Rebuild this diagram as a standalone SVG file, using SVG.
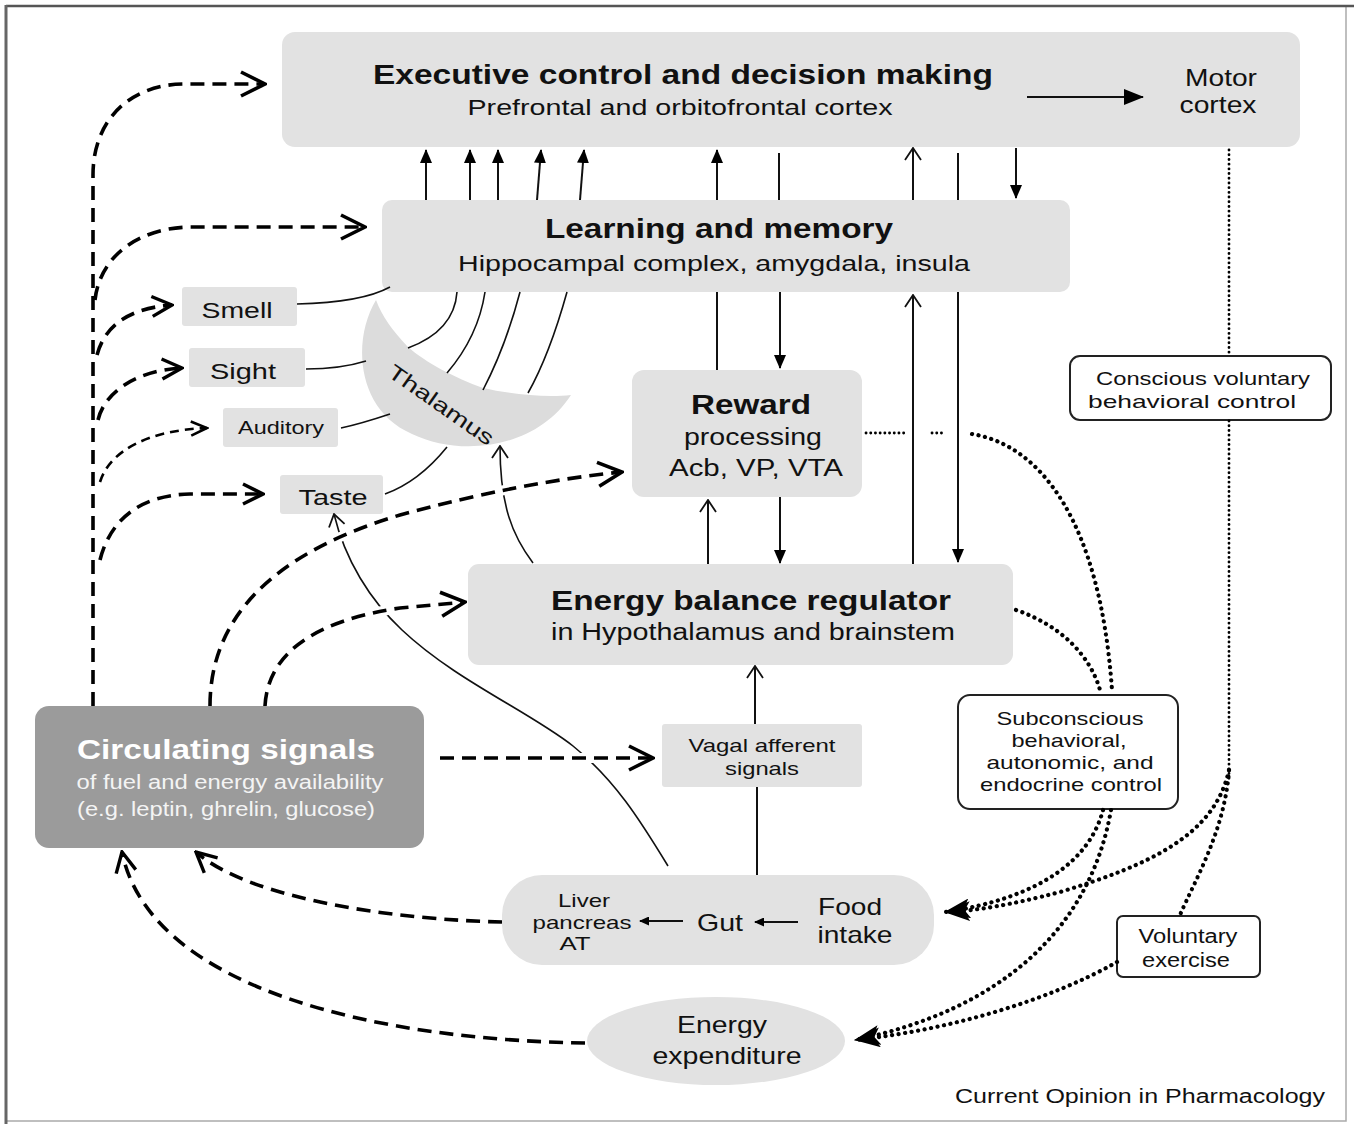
<svg xmlns="http://www.w3.org/2000/svg" width="1354" height="1124" viewBox="0 0 1354 1124">
  <style>
    text { font-family: "Liberation Sans", Arial, sans-serif; fill: #111; text-anchor: middle; }
    .b { font-weight: bold; }
    .box { fill: #e2e2e2; }
    .wbox { fill: #fff; stroke: #222; stroke-width: 2; }
    .thin { fill: none; stroke: #111; stroke-width: 1.6; }
    .ar { fill: none; stroke: #111; stroke-width: 2; }
    .dash { fill: none; stroke: #000; stroke-width: 3.6; stroke-dasharray: 14 8; }
    .dashS { fill: none; stroke: #000; stroke-width: 2.6; stroke-dasharray: 9 6; }
    .halo { fill: none; stroke: #fff; stroke-width: 10; }
    .dot { fill: none; stroke: #000; stroke-width: 4.2; stroke-linecap: round; stroke-dasharray: 0.1 6.5; }
    .dotS { fill: none; stroke: #000; stroke-width: 2.8; stroke-linecap: round; stroke-dasharray: 0.1 4.6; }
  </style>
  <defs>
    <marker id="solid" viewBox="0 0 14 12" refX="13" refY="6" markerWidth="14" markerHeight="12" orient="auto" markerUnits="userSpaceOnUse">
      <path d="M0,0 L14,6 L0,12 Z" fill="#000"/>
    </marker>
    <marker id="solidL" viewBox="0 0 20 16" refX="19" refY="8" markerWidth="20" markerHeight="16" orient="auto" markerUnits="userSpaceOnUse">
      <path d="M0,0 L20,8 L0,16 Z" fill="#000"/>
    </marker>
    <marker id="solidS" viewBox="0 0 10 9" refX="9" refY="4.5" markerWidth="10" markerHeight="9" orient="auto" markerUnits="userSpaceOnUse">
      <path d="M0,0 L10,4.5 L0,9 Z" fill="#000"/>
    </marker>
    <marker id="open" viewBox="0 0 14 18" refX="13" refY="9" markerWidth="14" markerHeight="18" orient="auto" markerUnits="userSpaceOnUse">
      <path d="M1,1 L13,9 L1,17" fill="none" stroke="#111" stroke-width="1.8"/>
    </marker>
    <marker id="chevL" viewBox="0 0 28 28" refX="26" refY="14" markerWidth="28" markerHeight="28" orient="auto" markerUnits="userSpaceOnUse">
      <path d="M2,2 L26,14 L2,26" fill="none" stroke="#000" stroke-width="3.6"/>
    </marker>
    <marker id="chevM" viewBox="0 0 24 24" refX="22" refY="12" markerWidth="24" markerHeight="24" orient="auto" markerUnits="userSpaceOnUse">
      <path d="M2,2 L22,12 L2,22" fill="none" stroke="#000" stroke-width="3.4"/>
    </marker>
    <marker id="chevS" viewBox="0 0 20 20" refX="18" refY="10" markerWidth="20" markerHeight="20" orient="auto" markerUnits="userSpaceOnUse">
      <path d="M2,3 L18,10 L2,17" fill="none" stroke="#000" stroke-width="2.6"/>
    </marker>
    <marker id="big" viewBox="0 0 26 20" refX="25" refY="10" markerWidth="26" markerHeight="20" orient="auto" markerUnits="userSpaceOnUse">
      <path d="M0,0 L26,10 L0,20 L6,10 Z" fill="#000"/>
    </marker>
  </defs>

  <!-- frame -->
  <rect x="0" y="0" width="1354" height="1124" fill="#fff"/>
  <rect x="6" y="6" width="1340" height="1115" fill="none" stroke="#aaa" stroke-width="1.5"/>
  <line x1="6" y1="6" x2="1354" y2="6" stroke="#555" stroke-width="2.5"/>
  <line x1="6" y1="5" x2="6" y2="1124" stroke="#666" stroke-width="3"/>

  <g id="executive">
    <rect class="box" x="282" y="32" width="1018" height="115" rx="13"/>
    <text class="b" x="683" y="84" font-size="28" textLength="620" lengthAdjust="spacingAndGlyphs">Executive control and decision making</text>
    <text x="680" y="115" font-size="22" textLength="425" lengthAdjust="spacingAndGlyphs">Prefrontal and orbitofrontal cortex</text>
    <text x="1221" y="86" font-size="23" textLength="72" lengthAdjust="spacingAndGlyphs">Motor</text>
    <text x="1218" y="113" font-size="23" textLength="77" lengthAdjust="spacingAndGlyphs">cortex</text>
  </g>

  <g id="learning">
    <rect class="box" x="382" y="200" width="688" height="92" rx="10"/>
    <text class="b" x="719" y="238" font-size="28" textLength="348" lengthAdjust="spacingAndGlyphs">Learning and memory</text>
    <text x="714" y="271" font-size="22" textLength="512" lengthAdjust="spacingAndGlyphs">Hippocampal complex, amygdala, insula</text>
  </g>

  <g id="thalamus">
    <path fill="#dcdcdc" d="M376,300 C352,340 356,410 412,434 C462,458 537,448 571,395 C545,398 510,394 483,388 C455,378 425,362 408,347 C392,330 382,316 376,300 Z"/>
    <text x="441" y="412" font-size="21" textLength="124" lengthAdjust="spacingAndGlyphs" transform="rotate(35 441 405)">Thalamus</text>
  </g>

  <g id="smell">
    <rect class="box" x="182" y="287" width="115" height="39" rx="3"/>
    <text x="237" y="318" font-size="22" textLength="71" lengthAdjust="spacingAndGlyphs">Smell</text>
  </g>
  <g id="sight">
    <rect class="box" x="189" y="348" width="116" height="39" rx="3"/>
    <text x="243" y="379" font-size="22" textLength="66" lengthAdjust="spacingAndGlyphs">Sight</text>
  </g>
  <g id="auditory">
    <rect class="box" x="223" y="408" width="115" height="39" rx="3"/>
    <text x="281" y="434" font-size="18.5" textLength="86" lengthAdjust="spacingAndGlyphs">Auditory</text>
  </g>
  <g id="taste">
    <rect class="box" x="280" y="475" width="103" height="39" rx="3"/>
    <text x="333" y="505" font-size="22" textLength="69" lengthAdjust="spacingAndGlyphs">Taste</text>
  </g>

  <g id="reward">
    <rect class="box" x="632" y="370" width="230" height="127" rx="12"/>
    <text class="b" x="751" y="414" font-size="27" textLength="120" lengthAdjust="spacingAndGlyphs">Reward</text>
    <text x="753" y="445" font-size="23" textLength="138" lengthAdjust="spacingAndGlyphs">processing</text>
    <text x="756" y="476" font-size="23" textLength="174" lengthAdjust="spacingAndGlyphs">Acb, VP, VTA</text>
  </g>

  <g id="energy-balance">
    <rect class="box" x="468" y="564" width="545" height="101" rx="11"/>
    <text class="b" x="751" y="610" font-size="27" textLength="400" lengthAdjust="spacingAndGlyphs">Energy balance regulator</text>
    <text x="753" y="640" font-size="23" textLength="404" lengthAdjust="spacingAndGlyphs">in Hypothalamus and brainstem</text>
  </g>

  <g id="circulating">
    <rect x="35" y="706" width="389" height="142" rx="14" fill="#9b9b9b"/>
    <text class="b" x="226" y="759" font-size="28" textLength="298" lengthAdjust="spacingAndGlyphs" style="fill:#fff">Circulating signals</text>
    <text x="230" y="789" font-size="20" textLength="307" lengthAdjust="spacingAndGlyphs" style="fill:#f4f4f4">of fuel and energy availability</text>
    <text x="226" y="816" font-size="20" textLength="298" lengthAdjust="spacingAndGlyphs" style="fill:#f4f4f4">(e.g. leptin, ghrelin, glucose)</text>
  </g>

  <g id="vagal">
    <rect class="box" x="662" y="724" width="200" height="63" rx="3"/>
    <text x="762" y="752" font-size="18.5" textLength="147" lengthAdjust="spacingAndGlyphs">Vagal afferent</text>
    <text x="762" y="775" font-size="18.5" textLength="74" lengthAdjust="spacingAndGlyphs">signals</text>
  </g>

  <g id="digestion">
    <rect class="box" x="502" y="875" width="432" height="90" rx="40"/>
    <text x="584" y="907" font-size="18.5" textLength="52" lengthAdjust="spacingAndGlyphs">Liver</text>
    <text x="582" y="929" font-size="18.5" textLength="99" lengthAdjust="spacingAndGlyphs">pancreas</text>
    <text x="575" y="950" font-size="18.5" textLength="31" lengthAdjust="spacingAndGlyphs">AT</text>
    <text x="720" y="931" font-size="24" textLength="46" lengthAdjust="spacingAndGlyphs">Gut</text>
    <text x="850" y="915" font-size="24" textLength="64" lengthAdjust="spacingAndGlyphs">Food</text>
    <text x="855" y="943" font-size="24" textLength="75" lengthAdjust="spacingAndGlyphs">intake</text>
  </g>

  <g id="expenditure">
    <ellipse cx="716" cy="1041" rx="129" ry="44" fill="#e2e2e2"/>
    <text x="722" y="1033" font-size="24" textLength="90" lengthAdjust="spacingAndGlyphs">Energy</text>
    <text x="727" y="1064" font-size="24" textLength="149" lengthAdjust="spacingAndGlyphs">expenditure</text>
  </g>

  <g id="conscious">
    <rect class="wbox" x="1070" y="356" width="261" height="64" rx="10"/>
    <text x="1203" y="385" font-size="19" textLength="214" lengthAdjust="spacingAndGlyphs">Conscious voluntary</text>
    <text x="1192" y="408" font-size="19" textLength="208" lengthAdjust="spacingAndGlyphs">behavioral control</text>
  </g>

  <g id="subconscious">
    <rect class="wbox" x="958" y="695" width="220" height="114" rx="12"/>
    <text x="1070" y="725" font-size="18.5" textLength="147" lengthAdjust="spacingAndGlyphs">Subconscious</text>
    <text x="1069" y="747" font-size="18.5" textLength="115" lengthAdjust="spacingAndGlyphs">behavioral,</text>
    <text x="1070" y="769" font-size="18.5" textLength="167" lengthAdjust="spacingAndGlyphs">autonomic, and</text>
    <text x="1071" y="791" font-size="18.5" textLength="182" lengthAdjust="spacingAndGlyphs">endocrine control</text>
  </g>

  <g id="voluntary">
    <rect class="wbox" x="1117" y="916" width="143" height="61" rx="6"/>
    <text x="1188" y="943" font-size="19.5" textLength="99" lengthAdjust="spacingAndGlyphs">Voluntary</text>
    <text x="1186" y="967" font-size="19.5" textLength="88" lengthAdjust="spacingAndGlyphs">exercise</text>
  </g>

  <text x="955" y="1103" font-size="19.5" textLength="370" lengthAdjust="spacingAndGlyphs" style="text-anchor:start">Current Opinion in Pharmacology</text>

  <g id="connectors">
    <!-- sensory inputs to learning / thalamus -->
    <path class="thin" d="M297,304 C340,303 370,298 390,287"/>
    <path class="thin" d="M306,369 C330,369 350,366 366,361"/>
    <path class="thin" d="M341,428 C360,424 375,419 390,414"/>
    <path class="thin" d="M385,494 C410,485 430,468 447,447"/>
    <!-- thalamus relays up to learning -->
    <path class="thin" d="M457,292 C455,320 435,338 408,348"/>
    <path class="thin" d="M485,292 C480,325 465,352 447,373"/>
    <path class="thin" d="M520,292 C510,330 496,365 483,390"/>
    <path class="thin" d="M567,292 C555,335 541,370 528,393"/>
    <!-- energy balance to thalamus, gut to taste -->
    <path class="thin" d="M533,563 C512,535 500,505 500,446" marker-end="url(#open)"/>
    <path class="thin" d="M668,866 C640,820 615,780 573,746 C530,712 455,680 402,630 C370,600 345,560 334,514" marker-end="url(#open)"/>

    <!-- learning to executive -->
    <path class="ar" d="M426,200 L426,150" marker-end="url(#solid)"/>
    <path class="ar" d="M470,200 L470,150" marker-end="url(#solid)"/>
    <path class="ar" d="M498,200 L498,150" marker-end="url(#solid)"/>
    <path class="ar" d="M537,200 L541,150" marker-end="url(#solid)"/>
    <path class="ar" d="M580,200 L584,150" marker-end="url(#solid)"/>
    <path class="ar" d="M717,200 L717,150" marker-end="url(#solid)"/>
    <path class="ar" d="M717,370 L717,292" stroke-width="1.6"/>
    <path class="ar" d="M779,153 L779,200" stroke-width="1.6"/>
    <path class="ar" d="M780,292 L780,368" marker-end="url(#solid)"/>
    <path class="ar" d="M913,564 L913,295" stroke-width="1.6" marker-end="url(#open)"/>
    <path class="ar" d="M913,200 L913,148" stroke-width="1.6" marker-end="url(#open)"/>
    <path class="ar" d="M958,153 L958,200" stroke-width="2.5"/>
    <path class="ar" d="M958,292 L958,562" stroke-width="2.5" marker-end="url(#solid)"/>
    <path class="ar" d="M1016,148 L1016,198" marker-end="url(#solid)"/>
    <path class="ar" d="M1027,97 L1143,97" stroke-width="2.4" marker-end="url(#solidL)"/>
    <!-- reward / energy balance -->
    <path class="ar" d="M708,564 L708,500" stroke-width="1.6" marker-end="url(#open)"/>
    <path class="ar" d="M780,497 L780,563" marker-end="url(#solid)"/>
    <!-- vagal -->
    <path class="ar" d="M757,875 L757,787" stroke-width="1.8"/>
    <path class="ar" d="M755,724 L755,666" stroke-width="1.8" marker-end="url(#open)"/>
    <!-- food chain -->
    <path class="ar" d="M798,922 L755,922" stroke-width="1.5" marker-end="url(#solidS)"/>
    <path class="ar" d="M683,921 L640,921" stroke-width="1.5" marker-end="url(#solidS)"/>

    <!-- white halos where dashed lines cross thin lines -->
    <path class="halo" d="M210,706 C210,600 300,545 400,515 C480,493 560,478 610,473"/>
    <path class="halo" d="M265,706 C268,650 320,620 400,608 L455,603"/>
    <path class="halo" d="M440,758 L640,758"/>

    <!-- circulating signals (dashed) -->
    <path class="dash" d="M93,706 L93,175 C93,120 130,84 185,84 L265,84" marker-end="url(#chevL)"/>
    <path class="dash" d="M95,300 C100,255 140,228 190,227 L365,227" marker-end="url(#chevL)"/>
    <path class="dash" d="M97,355 C105,325 130,308 172,305" marker-end="url(#chevM)"/>
    <path class="dash" d="M98,420 C105,390 140,370 182,368" marker-end="url(#chevM)"/>
    <path class="dashS" d="M100,482 C110,450 150,430 207,428" marker-end="url(#chevS)"/>
    <path class="dash" d="M100,560 C110,520 140,495 190,494 L263,494" marker-end="url(#chevM)"/>
    <path class="dash" d="M210,706 C210,600 300,545 400,515 C480,493 560,478 622,472" marker-end="url(#chevL)"/>
    <path class="dash" d="M265,706 C268,650 320,620 400,608 L465,602" marker-end="url(#chevL)"/>
    <path class="dash" d="M440,758 L653,758" stroke-width="3" marker-end="url(#chevL)"/>
    <path class="dash" d="M502,922 C400,920 250,900 196,852" marker-end="url(#chevM)"/>
    <path class="dash" d="M585,1043 C380,1040 150,990 122,852" marker-end="url(#chevM)"/>

    <!-- behavioural control (dotted) -->
    <path class="dotS" d="M866,433 L906,433"/>
    <path class="dotS" d="M932,433 L944,433"/>
    <path class="dot" d="M972,434 C1040,445 1100,520 1112,690"/>
    <path class="dot" d="M1016,610 C1060,625 1090,655 1100,690"/>
    <path class="dotS" d="M1229,150 L1229,356"/>
    <path class="dotS" d="M1229,421 L1229,780"/>
    <path class="dot" d="M1229,770 C1225,830 1195,880 1180,915"/>
    <path class="dot" d="M1229,770 C1215,835 1150,865 1060,892 C1010,905 975,911 945,912" marker-end="url(#big)"/>
    <path class="dot" d="M1103,810 C1090,860 1040,898 945,912" marker-end="url(#big)"/>
    <path class="dot" d="M1111,810 C1090,930 1000,1010 855,1040" marker-end="url(#big)"/>
    <path class="dot" d="M1117,962 C1050,1000 950,1030 855,1040" marker-end="url(#big)"/>
  </g>
</svg>
